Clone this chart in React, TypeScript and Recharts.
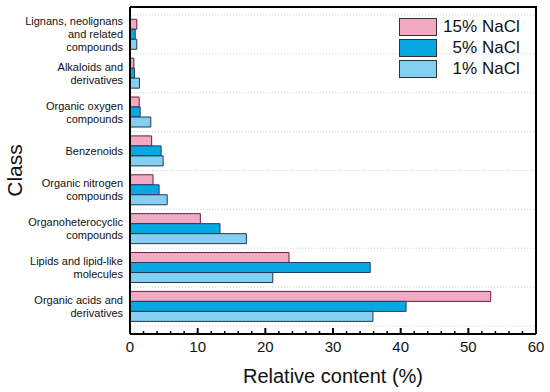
import React from "react";
import { BarChart, Bar, XAxis, YAxis } from "recharts";

const categories = [
  "Lignans, neolignans\nand related\ncompounds",
  "Alkaloids and\nderivatives",
  "Organic oxygen\ncompounds",
  "Benzenoids",
  "Organic nitrogen\ncompounds",
  "Organoheterocyclic\ncompounds",
  "Lipids and lipid-like\nmolecules",
  "Organic acids and\nderivatives",
];

const nacl15 = [1.0, 0.57, 1.36, 3.2, 3.4, 10.4, 23.5, 53.3];
const nacl5 = [0.77, 0.66, 1.5, 4.6, 4.3, 13.3, 35.5, 40.8];
const nacl1 = [1.0, 1.4, 3.07, 4.9, 5.5, 17.2, 21.1, 35.9];

const xTicks = [0, 2, 4, 6, 8, 10, 12, 14, 16, 18, 20, 22, 24, 26, 28, 30, 32, 34, 36, 38, 40, 42, 44, 46, 48, 50, 52, 54, 56, 58, 60];

const series = [
  { key: "n15", pct: "15%", fill: "#F2A9C2", stroke: "#6A1E45" },
  { key: "n5", pct: "5%", fill: "#08A8E2", stroke: "#1F3D6E" },
  { key: "n1", pct: "1%", fill: "#84D0F2", stroke: "#2A3550" },
];

const data = categories.map((name, i) => ({
  name,
  n15: nacl15[i],
  n5: nacl5[i],
  n1: nacl1[i],
}));

const FONT = "'Liberation Sans', Arial, sans-serif";
const W = 550;
const H = 392;
const M = { top: 7, right: 14, left: 0, bottom: 0 };
const Y_AXIS_W = 130;
const X_AXIS_H = 58;
const PAD = 8;

// plot box, derived from the chart layout above
const plotTop = M.top;
const plotBottom = H - M.bottom - X_AXIS_H;
const plotLeft = M.left + Y_AXIS_W;
const plotRight = W - M.right;
const band = (plotBottom - plotTop - 2 * PAD) / categories.length;
const gridLines = categories.map((_, i) => plotTop + PAD + i * band).concat(plotTop + PAD + categories.length * band);

function CategoryTick(props: any) {
  const { x, y, payload } = props;
  const lines = String(payload.value).split("\n");
  const start = -((lines.length - 1) / 2) * 13 + 4;
  return (
    <text x={x} y={y} textAnchor="end" fontSize={11} fontFamily={FONT} fill="#111">
      {lines.map((l, i) => (
        <tspan key={i} x={x} dy={i === 0 ? start : 13}>
          {l}
        </tspan>
      ))}
    </text>
  );
}

function ValueTick(props: any) {
  const { x, y, payload } = props;
  const major = payload.value % 10 === 0;
  return (
    <g>
      <line x1={x} x2={x} y1={y} y2={y - (major ? 6 : 3)} stroke="#000" strokeWidth={major ? 2 : 1.5} />
      {major && (
        <text x={x} y={y + 18} textAnchor="middle" fontSize={15} fontFamily={FONT} fill="#111">
          {payload.value}
        </text>
      )}
    </g>
  );
}

function LegendBox() {
  return (
    <div style={{ position: "absolute", left: 399, top: 18, fontFamily: FONT, fontSize: 17, color: "#111" }}>
      {series.map((s) => (
        <div key={s.key} style={{ display: "flex", alignItems: "center", height: 18, marginBottom: 3 }}>
          <div style={{ width: 36, height: 16, background: s.fill, border: "1px solid #333" }} />
          <span style={{ width: 40, textAlign: "right", display: "inline-block" }}>{s.pct}</span>
          <span style={{ marginLeft: 5 }}>NaCl</span>
        </div>
      ))}
    </div>
  );
}

// dotted band separators + top/right edges of the frame
function Frame() {
  return (
    <>
      <svg width={W} height={H} style={{ position: "absolute", left: 0, top: 0, pointerEvents: "none" }}>
        {gridLines.map((y, i) => (
          <line key={i} x1={plotLeft + 1} x2={plotRight - 1} y1={y} y2={y} stroke="#cfcfcf" strokeDasharray="1 2" />
        ))}
      </svg>
      <div
        style={{
          position: "absolute",
          left: plotLeft,
          top: plotTop - 1,
          width: plotRight - plotLeft + 1,
          height: plotBottom - plotTop + 1,
          borderTop: "2px solid #000",
          borderRight: "2px solid #000",
          boxSizing: "border-box",
          pointerEvents: "none",
        }}
      />
    </>
  );
}

export default function App() {
  return (
    <div style={{ position: "absolute", left: 0, top: 0, width: W, height: H, background: "#fff" }}>
      <div style={{ position: "absolute", left: 0, top: 0 }}>
        <BarChart
          width={W}
          height={H}
          data={data}
          layout="vertical"
          margin={M}
          barCategoryGap="11%"
          barGap={0}
        >
          <XAxis
            type="number"
            domain={[0, 60]}
            ticks={xTicks}
            interval={0}
            height={X_AXIS_H}
            tickSize={0}
            tickMargin={0}
            tickLine={false}
            axisLine={{ stroke: "#000", strokeWidth: 2 }}
            tick={<ValueTick />}
            label={(p: any) => {
              const vb = p.viewBox;
              return (
                <text x={vb.x + vb.width / 2} y={vb.y + 49} textAnchor="middle" fontSize={20} fontFamily={FONT} fill="#111">
                  Relative content (%)
                </text>
              );
            }}
          />
          <YAxis
            type="category"
            dataKey="name"
            width={Y_AXIS_W}
            padding={{ top: PAD, bottom: PAD }}
            tickSize={0}
            tickMargin={7}
            tickLine={false}
            interval={0}
            axisLine={{ stroke: "#000", strokeWidth: 2 }}
            tick={<CategoryTick />}
            label={(p: any) => {
              const vb = p.viewBox;
              const cy = vb.y + vb.height / 2;
              return (
                <text x={22} y={cy} transform={`rotate(-90 22 ${cy})`} textAnchor="middle" fontSize={21} fontFamily={FONT} fill="#111">
                  Class
                </text>
              );
            }}
          />
          {series.map((s) => (
            <Bar key={s.key} dataKey={s.key} fill={s.fill} stroke={s.stroke} strokeWidth={1} isAnimationActive={false} />
          ))}
        </BarChart>
      </div>
      <Frame />
      <LegendBox />
    </div>
  );
}
